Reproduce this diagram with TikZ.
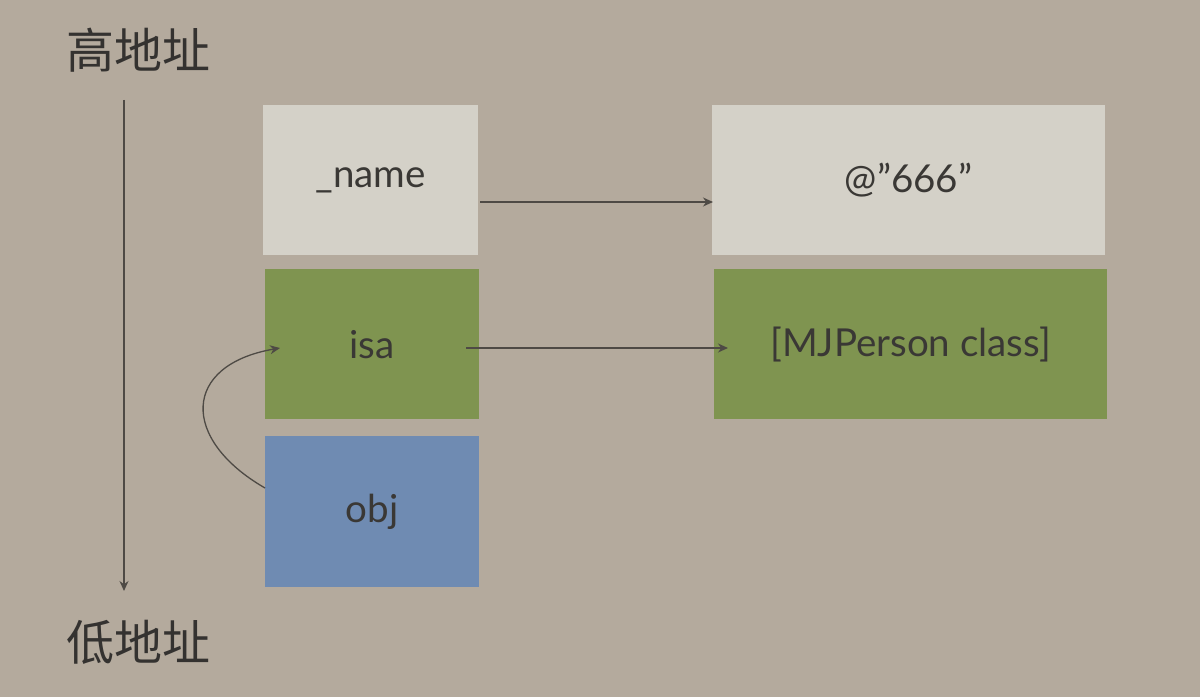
\documentclass[tikz,border=0pt]{standalone}
\usepackage{fontspec}
\setmainfont{Lato}
\newfontfamily\cjk{Noto Sans CJK SC}
\usetikzlibrary{arrows.meta}
\definecolor{bg}{HTML}{B4AA9D}
\definecolor{lightbox}{HTML}{D4D1C8}
\definecolor{greenbox}{HTML}{7F9450}
\definecolor{bluebox}{HTML}{6F8BB2}
\definecolor{txt}{HTML}{3A3835}
\definecolor{line}{HTML}{4E4A45}
\begin{document}
\begin{tikzpicture}[x=1pt,y=1pt,
  cell/.style={minimum width=#1, minimum height=150, inner sep=0pt, font=\fontsize{38.5}{42}\selectfont, text=txt},
  conn/.style={draw=line, line width=1.3pt, -{Stealth[length=10pt,width=9pt]}},
  lbl/.style={font=\cjk\fontsize{48}{54}\selectfont, text=txt!90!black}]
\fill[bg] (0,0) rectangle (1200,697);
\useasboundingbox (0,0) rectangle (1200,697);
\node[cell=215, fill=lightbox] (name) at (370.5,517) {\_name};
\node[cell=393, fill=lightbox] (str) at (908.5,517) {@”666”};
\node[cell=214, fill=greenbox] (isa) at (372,352.5) {isa};
\node[cell=393, fill=greenbox] (cls) at (910.5,352.5) {[MJPerson class]};
\node[cell=214, fill=bluebox] (obj) at (372,185.5) {obj};
\node[lbl] (hi) at (138,647) {高地址};
\node[lbl] (lo) at (138,55) {低地址};
\coordinate (top) at (124,597);
\coordinate (bot) at (124,106);
\draw[conn] (top) -- (bot);
\coordinate (a1) at (480,495);
\coordinate (a2) at (713,495);
\draw[conn] (a1) -- (a2);
\coordinate (b1) at (466,349);
\coordinate (b2) at (728,349);
\draw[conn] (b1) -- (b2);
\coordinate (c1) at (265,209);
\coordinate (c2) at (280,349);
\draw[conn] (c1) .. controls (180,258) and (182,332) .. (c2);
\end{tikzpicture}
\end{document}
